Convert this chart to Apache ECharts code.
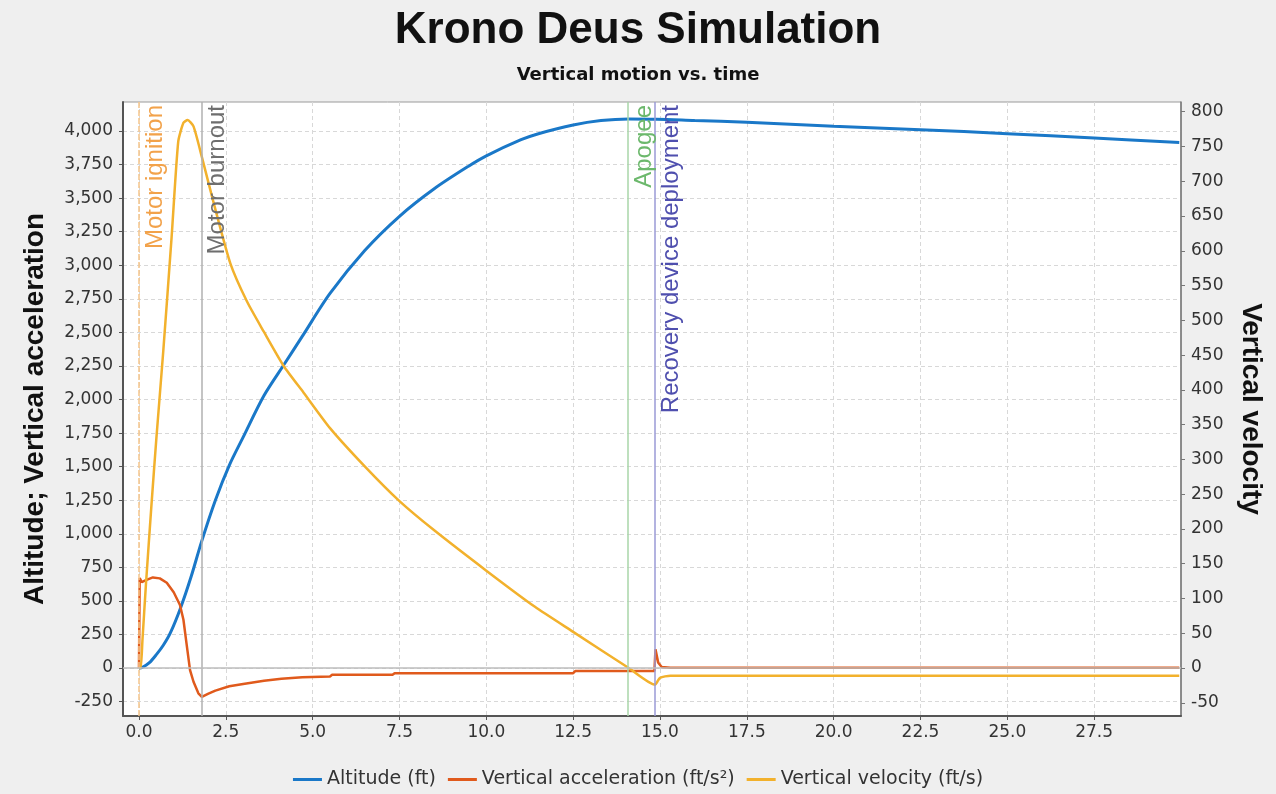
<!DOCTYPE html>
<html>
<head>
<meta charset="utf-8">
<title>Krono Deus Simulation</title>
<script src="https://cdn.jsdelivr.net/npm/echarts@6/dist/echarts.min.js"></script>
<style>
  html, body { margin: 0; padding: 0; background: #efefef; }
  #myChart1 { width: 1276px; height: 794px; }
</style>
</head>
<body>
<div id="myChart1"></div>
<script>
// time (s) and values
var altT = [0, 0.1, 0.3, 0.5, 0.7, 0.9, 1.2, 1.5, 1.8, 2.2, 2.6, 3.0, 3.6, 4.2, 4.7, 5.5, 6.5, 7.5, 8.5, 9.5, 10.0, 11.0, 11.5, 12.5, 13.3, 14.1, 14.9, 16.0, 17.5, 20.0, 22.5, 25.0, 27.5, 29.95];
var altV = [0, 5, 40, 100, 170, 260, 450, 680, 940, 1250, 1510, 1720, 2030, 2270, 2470, 2790, 3110, 3365, 3570, 3740, 3815, 3935, 3980, 4045, 4078, 4090, 4088, 4078, 4065, 4035, 4010, 3980, 3948, 3915];

var accT = [0, 0.02, 0.08, 0.2, 0.4, 0.6, 0.8, 1.0, 1.18, 1.28, 1.37, 1.47, 1.57, 1.71, 1.81, 2.0, 2.2, 2.6, 3.0, 3.6, 4.1, 4.7, 5.5, 5.56, 7.3, 7.36, 12.5, 12.56, 14.84, 14.87, 14.95, 15.05, 15.3, 17.5, 20.0, 25.0, 29.95];
var accV = [0, 670, 640, 655, 675, 668, 635, 565, 470, 360, 180, -15, -102, -188, -214, -190, -168, -135, -118, -95, -80, -68, -62, -50, -50, -38, -38, -22, -22, 140, 40, 8, 3, 3, 3, 3, 3];

var velT = [0, 0.05, 0.1, 0.2, 0.36, 0.5, 0.7, 0.94, 1.13, 1.28, 1.4, 1.57, 1.81, 2.15, 2.63, 3.11, 3.59, 4.17, 4.74, 5.5, 6.5, 7.5, 8.5, 10.0, 11.4, 12.5, 14.1, 14.86, 14.92, 15.0, 15.3, 17.5, 20.0, 25.0, 29.95];
var velV = [0, 0, 40, 120, 235, 330, 456, 620, 757, 784, 788, 779, 735, 669, 582, 527, 484, 434, 396, 345, 290, 240, 198, 140, 88, 52, 0, -24, -20, -14, -11, -11, -11, -11, -11];

var xTicks = [0, 2.5, 5, 7.5, 10, 12.5, 15, 17.5, 20, 22.5, 25, 27.5];
var leftTicks = [-250, 0, 250, 500, 750, 1000, 1250, 1500, 1750, 2000, 2250, 2500, 2750, 3000, 3250, 3500, 3750, 4000];
var rightTicks = [-50, 0, 50, 100, 150, 200, 250, 300, 350, 400, 450, 500, 550, 600, 650, 700, 750, 800];

var eventNames = ['Motor ignition', 'Motor burnout', 'Apogee', 'Recovery device deployment'];
var eventTimes = [0, 1.81, 14.08, 14.86];

function pairs(t, v) {
    return t.map(function (x, i) { return [x, v[i]]; });
}

var eventStyle = [
    { line: '#f5c58a', text: '#f2a24a', type: [6, 2] },
    { line: '#b0b0b0', text: '#6e6e6e', type: 'solid' },
    { line: '#a9d6a9', text: '#6cb86c', type: 'solid' },
    { line: '#9a9ad6', text: '#4f4fae', type: 'solid' }
];

var markData = eventNames.map(function (n, i) {
    return {
        name: n,
        xAxis: eventTimes[i],
        lineStyle: { color: eventStyle[i].line, width: 1.5, type: eventStyle[i].type },
        label: {
            show: true,
            formatter: n,
            position: 'insideEndBottom',
            distance: [3, 4],
            color: eventStyle[i].text,
            fontFamily: 'Liberation Sans',
            fontSize: 24
        }
    };
});
markData.push({
    yAxis: 0,
    lineStyle: { color: '#bdbdbd', width: 1.5, type: 'solid' },
    label: { show: false }
});

var tickFont = { fontFamily: 'DejaVu Sans', fontSize: 17, color: '#333' };

var option = {
    backgroundColor: '#efefef',
    animation: false,
    title: [
        {
            text: 'Krono Deus Simulation',
            left: 'center',
            top: 4,
            textStyle: { fontFamily: 'Liberation Sans', fontWeight: 'bold', fontSize: 44, color: '#111' }
        },
        {
            text: 'Vertical motion vs. time',
            left: 'center',
            top: 61,
            textStyle: { fontFamily: 'DejaVu Sans', fontWeight: 'bold', fontSize: 18, color: '#111' }
        }
    ],
    legend: {
        top: 765,
        left: 'center',
        icon: 'rect',
        itemWidth: 29,
        itemHeight: 3,
        itemGap: 12,
        textStyle: { fontFamily: 'DejaVu Sans', fontSize: 19, color: '#333' },
        data: ['Altitude (ft)', 'Vertical acceleration (ft/s²)', 'Vertical velocity (ft/s)']
    },
    grid: {
        left: 123,
        right: 95,
        top: 102,
        bottom: 78,
        show: true,
        backgroundColor: '#fff',
        borderColor: '#9a9a9a',
        borderWidth: 1
    },
    xAxis: {
        type: 'value',
        min: -0.46,
        max: 30.0,
        axisLine: { show: true, onZero: false, lineStyle: { color: '#555', width: 2 } },
        axisTick: { show: true, length: 4, customValues: xTicks, lineStyle: { color: '#555' } },
        axisLabel: {
            customValues: xTicks,
            margin: 8,
            formatter: function (v) { return v.toFixed(1); },
            fontFamily: tickFont.fontFamily, fontSize: tickFont.fontSize, color: tickFont.color
        },
        splitLine: { show: true, lineStyle: { color: '#d8d8d8', type: [4, 3] } }
    },
    yAxis: [
        {
            type: 'value',
            position: 'left',
            min: -357,
            max: 4216,
            name: 'Altitude; Vertical acceleration',
            nameLocation: 'middle',
            nameGap: 74,
            nameTextStyle: { fontFamily: 'Liberation Sans', fontWeight: 'bold', fontSize: 28, color: '#111' },
            axisLine: { show: true, onZero: false, lineStyle: { color: '#555', width: 2 } },
            axisTick: { show: true, length: 4, customValues: leftTicks, lineStyle: { color: '#555' } },
            axisLabel: {
                customValues: leftTicks,
                margin: 10,
                formatter: function (v) { return v.toLocaleString('en-US'); },
                fontFamily: tickFont.fontFamily, fontSize: tickFont.fontSize, color: tickFont.color
            },
            splitLine: { show: true, lineStyle: { color: '#d8d8d8', type: [4, 3] } }
        },
        {
            type: 'value',
            position: 'right',
            min: -69,
            max: 814,
            name: 'Vertical velocity',
            nameLocation: 'middle',
            nameGap: 56,
            nameRotate: -90,
            nameTextStyle: { fontFamily: 'Liberation Sans', fontWeight: 'bold', fontSize: 28, color: '#111' },
            axisLine: { show: true, onZero: false, lineStyle: { color: '#777', width: 1.5 } },
            axisTick: { show: true, length: 4, customValues: rightTicks, lineStyle: { color: '#777' } },
            axisLabel: {
                customValues: rightTicks,
                margin: 10,
                fontFamily: tickFont.fontFamily, fontSize: tickFont.fontSize, color: tickFont.color
            },
            splitLine: { show: false }
        }
    ],
    series: [
        {
            name: 'Altitude (ft)',
            type: 'line',
            yAxisIndex: 0,
            showSymbol: false,
            smooth: 0.3,
            color: '#1a78c8',
            lineStyle: { width: 3 },
            data: pairs(altT, altV),
            markLine: {
                silent: true,
                symbol: 'none',
                animation: false,
                data: markData
            },
            z: 3
        },
        {
            name: 'Vertical acceleration (ft/s²)',
            type: 'line',
            yAxisIndex: 0,
            showSymbol: false,
            color: '#e05a1c',
            lineStyle: { width: 2.5 },
            data: pairs(accT, accV),
            z: 3
        },
        {
            name: 'Vertical velocity (ft/s)',
            type: 'line',
            yAxisIndex: 1,
            showSymbol: false,
            smooth: 0.2,
            color: '#f2b12c',
            lineStyle: { width: 2.5 },
            data: pairs(velT, velV),
            z: 3
        }
    ]
};

var myChart1 = echarts.init(document.getElementById('myChart1'));
myChart1.setOption(option);
window.onresize = myChart1.resize;
</script>
</body>
</html>
